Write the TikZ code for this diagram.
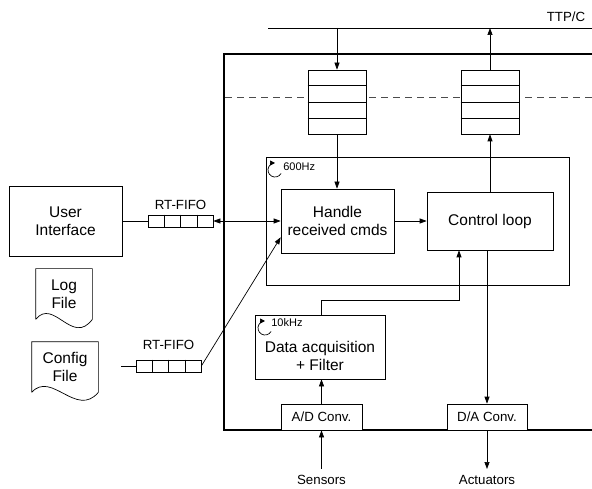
\documentclass[tikz,border=0pt]{standalone}
\usepackage{fontspec}
\setmainfont{Liberation Sans}
\usepackage{tikz}
\usetikzlibrary{positioning, arrows.meta, calc}

\begin{document}
\begin{tikzpicture}[x=1pt, y=-1pt, line width=0.7pt, >={Triangle[length=7pt,width=5pt]},
    caja/.style={draw, rectangle, inner sep=0pt, fill=white, align=center, font=\fontsize{15.5}{18.5}\selectfont},
    texto/.style={inner sep=0pt, align=center, font=\fontsize{15.5}{18.5}\selectfont},
    conv/.style={draw, rectangle, inner sep=0pt, fill=white, minimum width=80pt, minimum height=26pt, font=\fontsize{13.3}{15}\selectfont},
    cola/.style={draw, rectangle, inner sep=0pt, fill=white, minimum width=58pt, minimum height=64pt},
    fifo/.style={draw, rectangle, inner sep=0pt, fill=white, minimum width=65pt, minimum height=12pt},
    etiq/.style={inner sep=0pt, font=\fontsize{13.3}{15}\selectfont},
    freq/.style={inner sep=0pt, anchor=west, font=\fontsize{11}{13}\selectfont},
    ciclo/.style={-{Triangle[length=5pt,width=5pt]}}]

    \useasboundingbox (0,0) rectangle (592,489);

    % Bus y frontera
    \coordinate (busL) at (268,28);
    \coordinate (busR) at (600,28);
    \draw (busL) -- (busR);
    \node[etiq] (ttp) at (566,17) {TTP/C};
    \draw[line width=2.2pt] (600,54) -- (224,54) -- (224,430) -- (600,430);
    \draw[dashed, dash pattern=on 7pt off 5pt, black!70] (225,97) -- (600,97);

    % Colas
    \node[cola] (rxq) at (337,102) {};
    \node[cola] (txq) at (490,102) {};
    \foreach \q in {rxq,txq}
        \foreach \k in {1,2,3}
            \draw ($(\q.north west)!\k/4!(\q.south west)$) -- ($(\q.north east)!\k/4!(\q.south east)$);

    % Nodos
    \node[draw, inner sep=0pt, minimum width=303pt, minimum height=128pt] (lazo) at (417.5,221) {};
    \node[caja, minimum width=113pt, minimum height=64pt] (handle) at (337.5,221) {Handle\\received cmds};
    \node[caja, minimum width=126pt, minimum height=58pt] (ctrl) at (490,221) {Control loop};
    \node[caja, minimum width=130pt, minimum height=64pt] (daq) at (320,347) {};
    \node[texto] (daqtxt) at (320,356) {Data acquisition\\+ Filter};
    \node[conv, minimum width=81pt] (ad) at (321.5,417) {A/D Conv.};
    \node[conv] (da) at (487,417) {D/A Conv.};
    \node[etiq, inner ysep=6pt] (sens) at (321.5,480) {Sensors};
    \node[etiq, inner ysep=6pt] (act) at (487,480) {Actuators};

    \node[caja, minimum width=113pt, minimum height=70pt] (ui) at (65.5,221) {User\\Interface};
    \node[texto, minimum width=56pt, minimum height=50pt] (log) at (64,294) {Log\\File};
    \node[texto, minimum width=66pt, minimum height=50pt] (cfg) at (65,367) {Config\\File};
    \draw (log.south west) -- (log.north west) -- (log.north east) -- (log.south east)
        .. controls +(-20,27) and +(18,-22) .. (log.south west);
    \draw (cfg.south west) -- (cfg.north west) -- (cfg.north east) -- (cfg.south east)
        .. controls +(-22,26) and +(20,-22) .. (cfg.south west);

    \node[fifo] (fifoA) at (180.5,221) {};
    \node[fifo] (fifoB) at (168.5,366) {};
    \foreach \f in {fifoA,fifoB}
        \foreach \k in {1,2,3}
            \draw ($(\f.north west)!\k/4!(\f.north east)$) -- ($(\f.south west)!\k/4!(\f.south east)$);
    \node[etiq, above=5pt of fifoA] (lblA) {RT-FIFO};
    \node[etiq, above=10pt of fifoB] (lblB) {RT-FIFO};

    % Frecuencias
    \coordinate (c600) at (275,170);
    \draw[ciclo] ($(c600)+(30:7)$) arc[start angle=30, end angle=270, radius=7];
    \node[freq] (f600) at (283,167) {600Hz};
    \coordinate (c10k) at (265,328);
    \draw[ciclo] ($(c10k)+(30:7)$) arc[start angle=30, end angle=270, radius=7];
    \node[freq] (f10k) at (271,323) {10kHz};

    % Conexiones
    \draw[->] (busL -| rxq.north) -- (rxq.north);
    \draw[->] (txq.north) -- (busL -| txq.north);
    \draw[->] (rxq.south) -- (rxq.south |- handle.north);
    \draw[->] (ctrl.north) -- (txq.south);
    \draw[->] (handle.east) -- (ctrl.west);
    \draw (ui.east) -- (fifoA.west);
    \draw[<->] (fifoA.east) -- (handle.west);
    \coordinate (cfgout) at (121,366);
    \draw (cfgout) -- (fifoB.west);
    \draw[->] (fifoB.east) -- (handle.196);
    \draw[->] (daq.north -| ad.north) -- ++(0,-14) -| ([xshift=-31pt]ctrl.south);
    \draw[->] (ctrl.south -| da.north) -- (da.north);
    \draw[->] (ad.north) -- (ad.north |- daq.south);
    \draw[->] (sens.north) -- (ad.south);
    \draw[->] (da.south) -- (act.north);
\end{tikzpicture}
\end{document}
